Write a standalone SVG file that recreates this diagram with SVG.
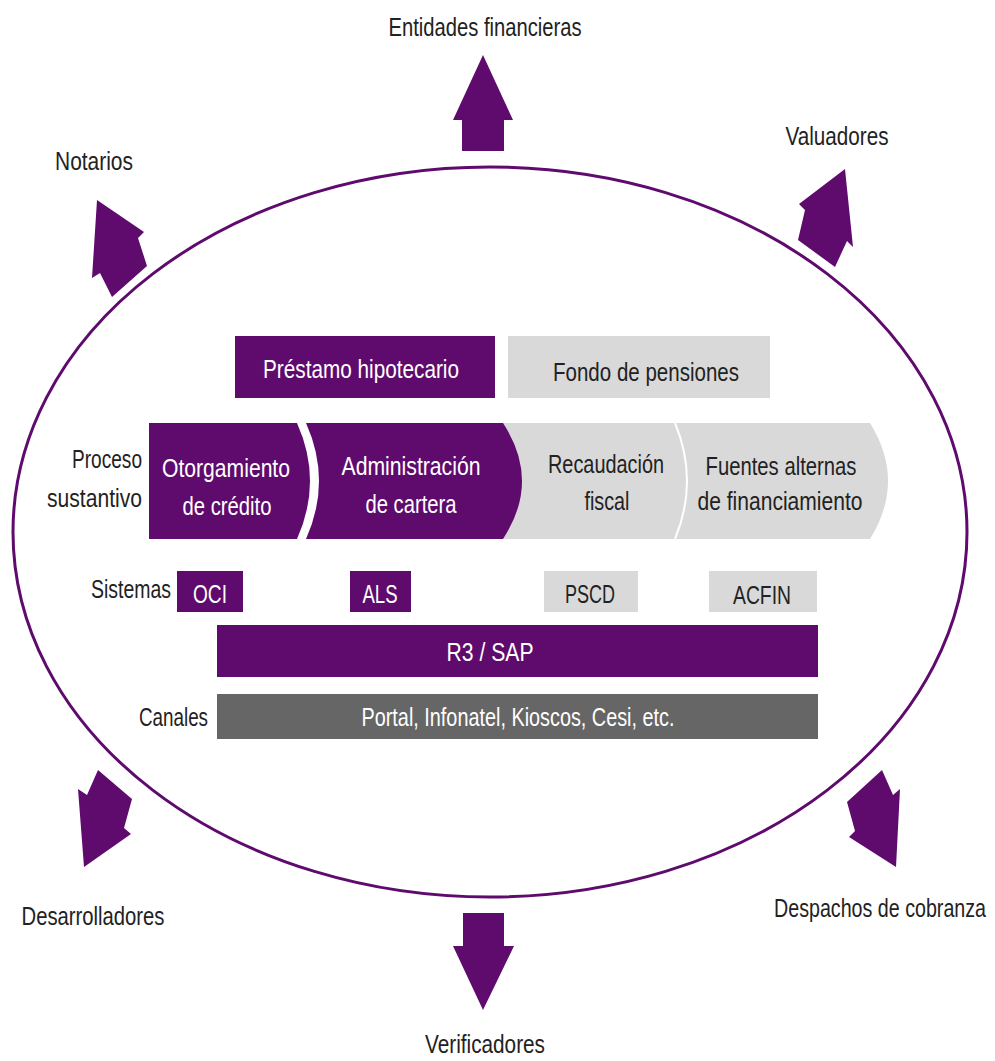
<svg xmlns="http://www.w3.org/2000/svg" width="995" height="1061" viewBox="0 0 995 1061">
<style>
.t{font-family:"Liberation Sans",Arial,sans-serif;font-size:26px;fill:#222}
.w{fill:#fff}
.p{fill:#5f0b6e}
.g{fill:#d9d9d9}
.c{text-anchor:middle}
.e{text-anchor:end}
</style>
<rect width="995" height="1061" fill="#fff"/>
<g id="ellipse"><ellipse cx="490" cy="532" rx="477" ry="365" fill="none" stroke="#5f0b6e" stroke-width="3"/></g>
<g id="connectors">
<polygon class="p" points="483,55 513,120 504,120 504,151 462,151 462,120 453,120"/>
<polygon class="p" points="97,200 144,232 138,238 147,266 112,297 100,273 92,278"/>
<polygon class="p" points="845,169 853,247 847,241 835,267 798,240 805,210 799,204"/>
<polygon class="p" points="84,867 131,834 124,828 132,799 98,770 87,795 78,789"/>
<polygon class="p" points="896,867 900,789 893,795 882,770 847,802 855,831 849,837"/>
<polygon class="p" points="483,1010 514,946 504,946 504,913 463,913 463,946 453,946"/>
</g>
<g id="n-entidades"><text class="t c" x="485" y="36" textLength="193" lengthAdjust="spacingAndGlyphs">Entidades financieras</text></g>
<g id="n-notarios"><text class="t c" x="94" y="170" textLength="78" lengthAdjust="spacingAndGlyphs">Notarios</text></g>
<g id="n-valuadores"><text class="t c" x="837" y="145" textLength="103" lengthAdjust="spacingAndGlyphs">Valuadores</text></g>
<g id="n-desarrolladores"><text class="t c" x="93" y="925" textLength="143" lengthAdjust="spacingAndGlyphs">Desarrolladores</text></g>
<g id="n-despachos"><text class="t c" transform="translate(880,917) scale(1,1.25)" x="0" y="0" style="font-size:20px" textLength="212" lengthAdjust="spacingAndGlyphs">Despachos de cobranza</text></g>
<g id="n-verificadores"><text class="t c" x="485" y="1053" textLength="120" lengthAdjust="spacingAndGlyphs">Verificadores</text></g>
<g id="n-prestamo"><rect class="p" x="235" y="336" width="260" height="62"/><text class="t c w" x="361" y="378" textLength="196" lengthAdjust="spacingAndGlyphs">Préstamo hipotecario</text></g>
<g id="n-fondo"><rect class="g" x="508" y="336" width="262" height="62"/><text class="t c" x="646" y="381" textLength="186" lengthAdjust="spacingAndGlyphs">Fondo de pensiones</text></g>
<g id="n-proceso"><text class="t e" x="142" y="468" textLength="70" lengthAdjust="spacingAndGlyphs">Proceso</text><text class="t e" x="142" y="507" textLength="95" lengthAdjust="spacingAndGlyphs">sustantivo</text></g>
<g id="n-gray-chevrons">
<path class="g" d="M495,423 H870 Q906,481 870,539 H495 Z"/>
<path d="M675,423 Q699,481 675,539" fill="none" stroke="#fff" stroke-width="2"/>
</g>
<g id="n-recaudacion"><text class="t c" x="606" y="473" textLength="116" lengthAdjust="spacingAndGlyphs">Recaudación</text><text class="t c" x="607" y="510" textLength="45" lengthAdjust="spacingAndGlyphs">fiscal</text></g>
<g id="n-fuentes"><text class="t c" x="781" y="475" textLength="151" lengthAdjust="spacingAndGlyphs">Fuentes alternas</text><text class="t c" x="780" y="510" textLength="165" lengthAdjust="spacingAndGlyphs">de financiamiento</text></g>
<g id="n-administracion"><path class="p" d="M306,423 H503 Q541,481 503,539 H306 Q332,481 306,423 Z"/><text class="t c w" x="411" y="475" textLength="139" lengthAdjust="spacingAndGlyphs">Administración</text><text class="t c w" x="411" y="513" textLength="91" lengthAdjust="spacingAndGlyphs">de cartera</text></g>
<g id="n-otorgamiento"><path class="p" d="M149,423 H297 Q323,481 297,539 H149 Z"/><text class="t c w" x="226" y="477" textLength="128" lengthAdjust="spacingAndGlyphs">Otorgamiento</text><text class="t c w" x="227" y="515" textLength="89" lengthAdjust="spacingAndGlyphs">de crédito</text></g>
<g id="n-sistemas"><text class="t e" x="171" y="598" textLength="80" lengthAdjust="spacingAndGlyphs">Sistemas</text></g>
<g id="n-oci"><rect class="p" x="177" y="571" width="66" height="41"/><text class="t c w" x="210" y="603" textLength="34" lengthAdjust="spacingAndGlyphs">OCI</text></g>
<g id="n-als"><rect class="p" x="350" y="571" width="61" height="41"/><text class="t c w" x="380" y="603" textLength="35" lengthAdjust="spacingAndGlyphs">ALS</text></g>
<g id="n-pscd"><rect class="g" x="544" y="571" width="94" height="41"/><text class="t c" x="590" y="603" textLength="50" lengthAdjust="spacingAndGlyphs">PSCD</text></g>
<g id="n-acfin"><rect class="g" x="709" y="571" width="108" height="41"/><text class="t c" x="762" y="604" textLength="58" lengthAdjust="spacingAndGlyphs">ACFIN</text></g>
<g id="n-r3sap"><rect class="p" x="217" y="625" width="601" height="52"/><text class="t c w" x="490" y="661" textLength="87" lengthAdjust="spacingAndGlyphs">R3 / SAP</text></g>
<g id="n-canales"><text class="t e" x="208" y="726" textLength="69" lengthAdjust="spacingAndGlyphs">Canales</text></g>
<g id="n-portal"><rect x="217" y="694" width="601" height="45" fill="#666"/><text class="t c w" x="518" y="726" textLength="313" lengthAdjust="spacingAndGlyphs">Portal, Infonatel, Kioscos, Cesi, etc.</text></g>
</svg>
